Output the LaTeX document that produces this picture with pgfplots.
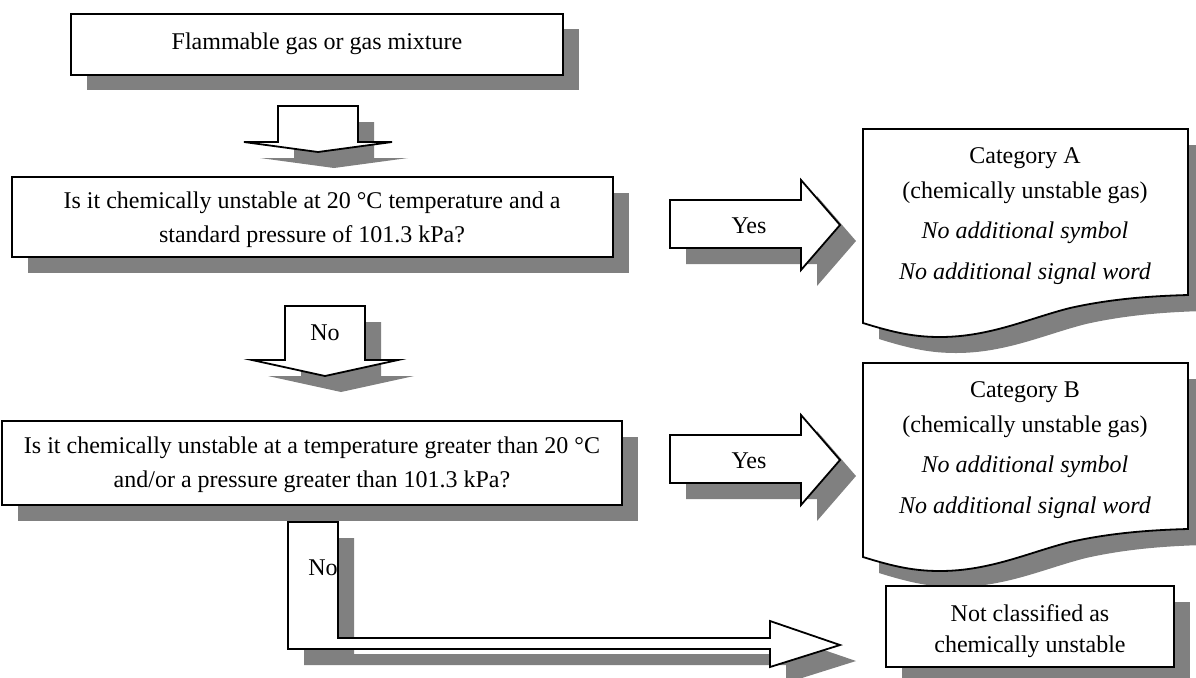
\documentclass[border=0pt]{standalone}
\usepackage{fontspec}
\setmainfont{Liberation Serif}
\usepackage{pgfplots}
\pgfplotsset{compat=1.18}
\definecolor{shadow}{HTML}{808080}
\newcommand{\fs}{\fontsize{12}{14}\selectfont}
\begin{document}
\begin{tikzpicture}
\begin{axis}[
  scale only axis, width=598pt, height=338.5pt,
  xmin=0, xmax=1196, ymin=0, ymax=677, y dir=reverse,
  hide axis, clip=false,
]
% ---------- shadows ----------
\addplot[draw=none, fill=shadow] coordinates {(87,29) (579,29) (579,90) (87,90)} -- cycle;
\addplot[draw=none, fill=shadow] coordinates {(294,122) (374,122) (374,158) (408,158) (334,168) (260,158) (294,158)} -- cycle;
\addplot[draw=none, fill=shadow] coordinates {(28,193) (629,193) (629,273) (28,273)} -- cycle;
\addplot[draw=none, fill=shadow] coordinates {(686,216) (817,216) (817,196) (856,241) (817,286) (817,264) (686,264)} -- cycle;
\fill[shadow] (879,145) -- (1204,145) -- (1204,311) .. controls (1166,312) and (1126,315) .. (1086,324) .. controls (1046,334) and (1006,353) .. (956,353) .. controls (931,353) and (911,349) .. (879,339) -- cycle;
\addplot[draw=none, fill=shadow] coordinates {(301,322) (381,322) (381,376) (414,376) (341,392) (268,376) (301,376)} -- cycle;
\addplot[draw=none, fill=shadow] coordinates {(18,437) (638,437) (638,521) (18,521)} -- cycle;
\addplot[draw=none, fill=shadow] coordinates {(686,451) (817,451) (817,431) (856,476) (817,521) (817,499) (686,499)} -- cycle;
\fill[shadow] (879,379) -- (1204,379) -- (1204,545) .. controls (1166,546) and (1126,549) .. (1086,558) .. controls (1046,568) and (1006,587) .. (956,587) .. controls (931,587) and (911,583) .. (879,573) -- cycle;
\addplot[draw=none, fill=shadow] coordinates {(304,538) (354,538) (354,654) (786,654) (786,637) (856,661) (786,683) (786,665) (304,665)} -- cycle;
\addplot[draw=none, fill=shadow] coordinates {(902,602) (1190,602) (1190,683) (902,683)} -- cycle;
% ---------- shapes ----------
\addplot[draw=black, fill=white, line width=1pt] coordinates {(71,14) (563,14) (563,75) (71,75)} -- cycle;
\addplot[draw=black, fill=white, line width=0.9pt] coordinates {(278,106) (358,106) (358,142) (392,142) (318,152) (244,142) (278,142)} -- cycle;
\addplot[draw=black, fill=white, line width=1pt] coordinates {(12,177) (613,177) (613,257) (12,257)} -- cycle;
\addplot[draw=black, fill=white, line width=0.9pt] coordinates {(670,200) (801,200) (801,180) (840,225) (801,270) (801,248) (670,248)} -- cycle;
\filldraw[draw=black, fill=white, line width=0.9pt] (863,129) -- (1188,129) -- (1188,295) .. controls (1150,296) and (1110,299) .. (1070,308) .. controls (1030,318) and (990,337) .. (940,337) .. controls (915,337) and (895,333) .. (863,323) -- cycle;
\addplot[draw=black, fill=white, line width=0.9pt] coordinates {(285,306) (365,306) (365,360) (398,360) (325,376) (252,360) (285,360)} -- cycle;
\addplot[draw=black, fill=white, line width=1pt] coordinates {(2,421) (622,421) (622,505) (2,505)} -- cycle;
\addplot[draw=black, fill=white, line width=0.9pt] coordinates {(670,435) (801,435) (801,415) (840,460) (801,505) (801,483) (670,483)} -- cycle;
\filldraw[draw=black, fill=white, line width=0.9pt] (863,363) -- (1188,363) -- (1188,529) .. controls (1150,530) and (1110,533) .. (1070,542) .. controls (1030,552) and (990,571) .. (940,571) .. controls (915,571) and (895,567) .. (863,557) -- cycle;
\addplot[draw=black, fill=white, line width=0.9pt] coordinates {(288,522) (338,522) (338,638) (770,638) (770,621) (840,645) (770,667) (770,649) (288,649)} -- cycle;
\addplot[draw=black, fill=white, line width=1pt] coordinates {(886,586) (1174,586) (1174,667) (886,667)} -- cycle;
% ---------- texts ----------
\node[font=\fs, inner sep=0pt] at (317,44) {Flammable gas or gas mixture};
\node[font=\fs, inner sep=0pt] at (312,203) {Is it chemically unstable at 20 °C temperature and a};
\node[font=\fs, inner sep=0pt] at (312,237) {standard pressure of 101.3 kPa?};
\node[font=\fs, inner sep=0pt] at (749,226) {Yes};
\node[font=\fs, inner sep=0pt] at (1025,158) {Category A};
\node[font=\fs, inner sep=0pt] at (1025,193) {(chemically unstable gas)};
\node[font=\fs\itshape, inner sep=0pt] at (1025,233) {No additional symbol};
\node[font=\fs\itshape, inner sep=0pt] at (1025,274) {No additional signal word};
\node[font=\fs, inner sep=0pt] at (325,333) {No};
\node[font=\fs, inner sep=0pt] at (312,448) {Is it chemically unstable at a temperature greater than 20 °C};
\node[font=\fs, inner sep=0pt] at (312,482) {and/or a pressure greater than 101.3 kPa?};
\node[font=\fs, inner sep=0pt] at (749,461) {Yes};
\node[font=\fs, inner sep=0pt] at (1025,392) {Category B};
\node[font=\fs, inner sep=0pt] at (1025,427) {(chemically unstable gas)};
\node[font=\fs\itshape, inner sep=0pt] at (1025,467) {No additional symbol};
\node[font=\fs\itshape, inner sep=0pt] at (1025,508) {No additional signal word};
\node[font=\fs, inner sep=0pt, anchor=east] at (338,568) {No};
\node[font=\fs, inner sep=0pt] at (1030,613) {Not classified as};
\node[font=\fs, inner sep=0pt] at (1030,647) {chemically unstable};
\end{axis}
\pgfresetboundingbox
\path (current axis.south west) rectangle (current axis.north east);
\end{tikzpicture}
\end{document}
